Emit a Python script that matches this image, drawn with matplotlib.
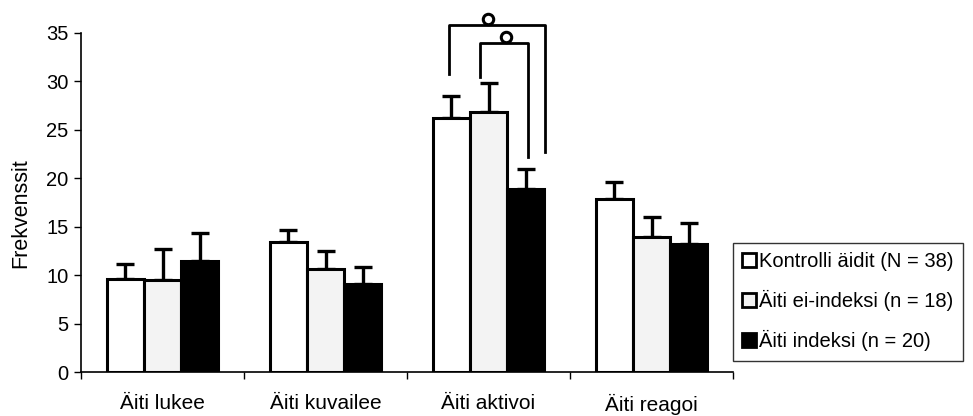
import matplotlib
matplotlib.use("Agg")
import matplotlib.pyplot as plt
from matplotlib.patches import Patch
import numpy as np

plt.rcParams['font.family'] = ['Liberation Sans', 'DejaVu Sans']

categories = ["Äiti lukee", "Äiti kuvailee", "Äiti aktivoi", "Äiti reagoi"]
series_names = ["Kontrolli äidit (N = 38)", "Äiti ei-indeksi (n = 18)", "Äiti indeksi (n = 20)"]

kontrolli = [9.6, 13.4, 26.2, 17.9]
ei_indeksi = [9.5, 10.6, 26.8, 13.9]
indeksi = [11.45, 9.1, 18.9, 13.2]

kontrolli_err = [1.5, 1.25, 2.3, 1.7]
ei_indeksi_err = [3.2, 1.9, 3.0, 2.1]
indeksi_err = [2.85, 1.7, 2.1, 2.2]

yticks = [0, 5, 10, 15, 20, 25, 30, 35]

# significance brackets in "Äiti aktivoi":
# (x-left, x-right, top, left foot, right foot, marker x)
brackets = [
    (-0.245, 0.344, 35.8, 30.8, 22.7, -0.006),
    (-0.05, 0.245, 34.0, 30.5, 22.2, 0.11),
]

colors = ["white", "#f3f3f3", "black"]
means = [kontrolli, ei_indeksi, indeksi]
errs = [kontrolli_err, ei_indeksi_err, indeksi_err]

fig = plt.figure(figsize=(9.73, 4.16), dpi=100)
ax = fig.add_axes([81 / 973, 1 - 372 / 416, (733 - 81) / 973, (372 - 33) / 416])

x = np.arange(len(categories))
w = 0.227
for i, (m, e, c) in enumerate(zip(means, errs, colors)):
    xs = x + (i - 1) * w
    ax.errorbar(xs, m, yerr=[np.zeros(len(m)), e], fmt="none", ecolor="black",
                elinewidth=2.4, capsize=6.5, capthick=2.4, zorder=2)
    ax.bar(xs, m, width=w, color=c, edgecolor="black", linewidth=2.2, zorder=3)

gi = 2
for xl, xr, top, fl, fr, mx in brackets:
    ax.plot([gi + xl, gi + xl, gi + xr, gi + xr], [fl, top, top, fr],
            color="black", lw=2.0, clip_on=False, zorder=4)
    ax.plot([gi + mx], [top + 0.6], marker="o", ms=7.5, mfc="white",
            mec="black", mew=2.2, clip_on=False, zorder=5)

ax.set_xlim(-0.5, 3.5)
ax.set_ylim(0, 35)
ax.set_yticks(yticks)
ax.tick_params(axis="y", direction="out", length=5, width=1, labelsize=14.5, pad=4)
ax.set_xticks(x)
ax.set_xticklabels(categories, fontsize=15)
ax.tick_params(axis="x", length=0, pad=16)
ax.set_xticks(np.arange(-0.5, 4.0, 1.0), minor=True)
ax.tick_params(axis="x", which="minor", direction="out", length=5, width=1)
for s in ["top", "right"]:
    ax.spines[s].set_visible(False)
ax.spines["left"].set_linewidth(1.2)
ax.spines["bottom"].set_linewidth(1.2)

fig.text(21 / 973, 1 - 213 / 416, "Frekvenssit", rotation=90, fontsize=15.5,
         ha="center", va="center")

handles = [Patch(facecolor=c, edgecolor="black", linewidth=2.0) for c in colors]
leg = fig.legend(handles, series_names, loc="upper left",
                 bbox_to_anchor=(733 / 973, 1 - 243 / 416), borderaxespad=0,
                 frameon=True, fancybox=False, edgecolor="black", fontsize=14.5,
                 handlelength=0.7, handleheight=0.7, handletextpad=0.15,
                 labelspacing=0.95, borderpad=0.45)
leg.get_frame().set_linewidth(1.0)

fig.savefig("out.png", dpi=100)
